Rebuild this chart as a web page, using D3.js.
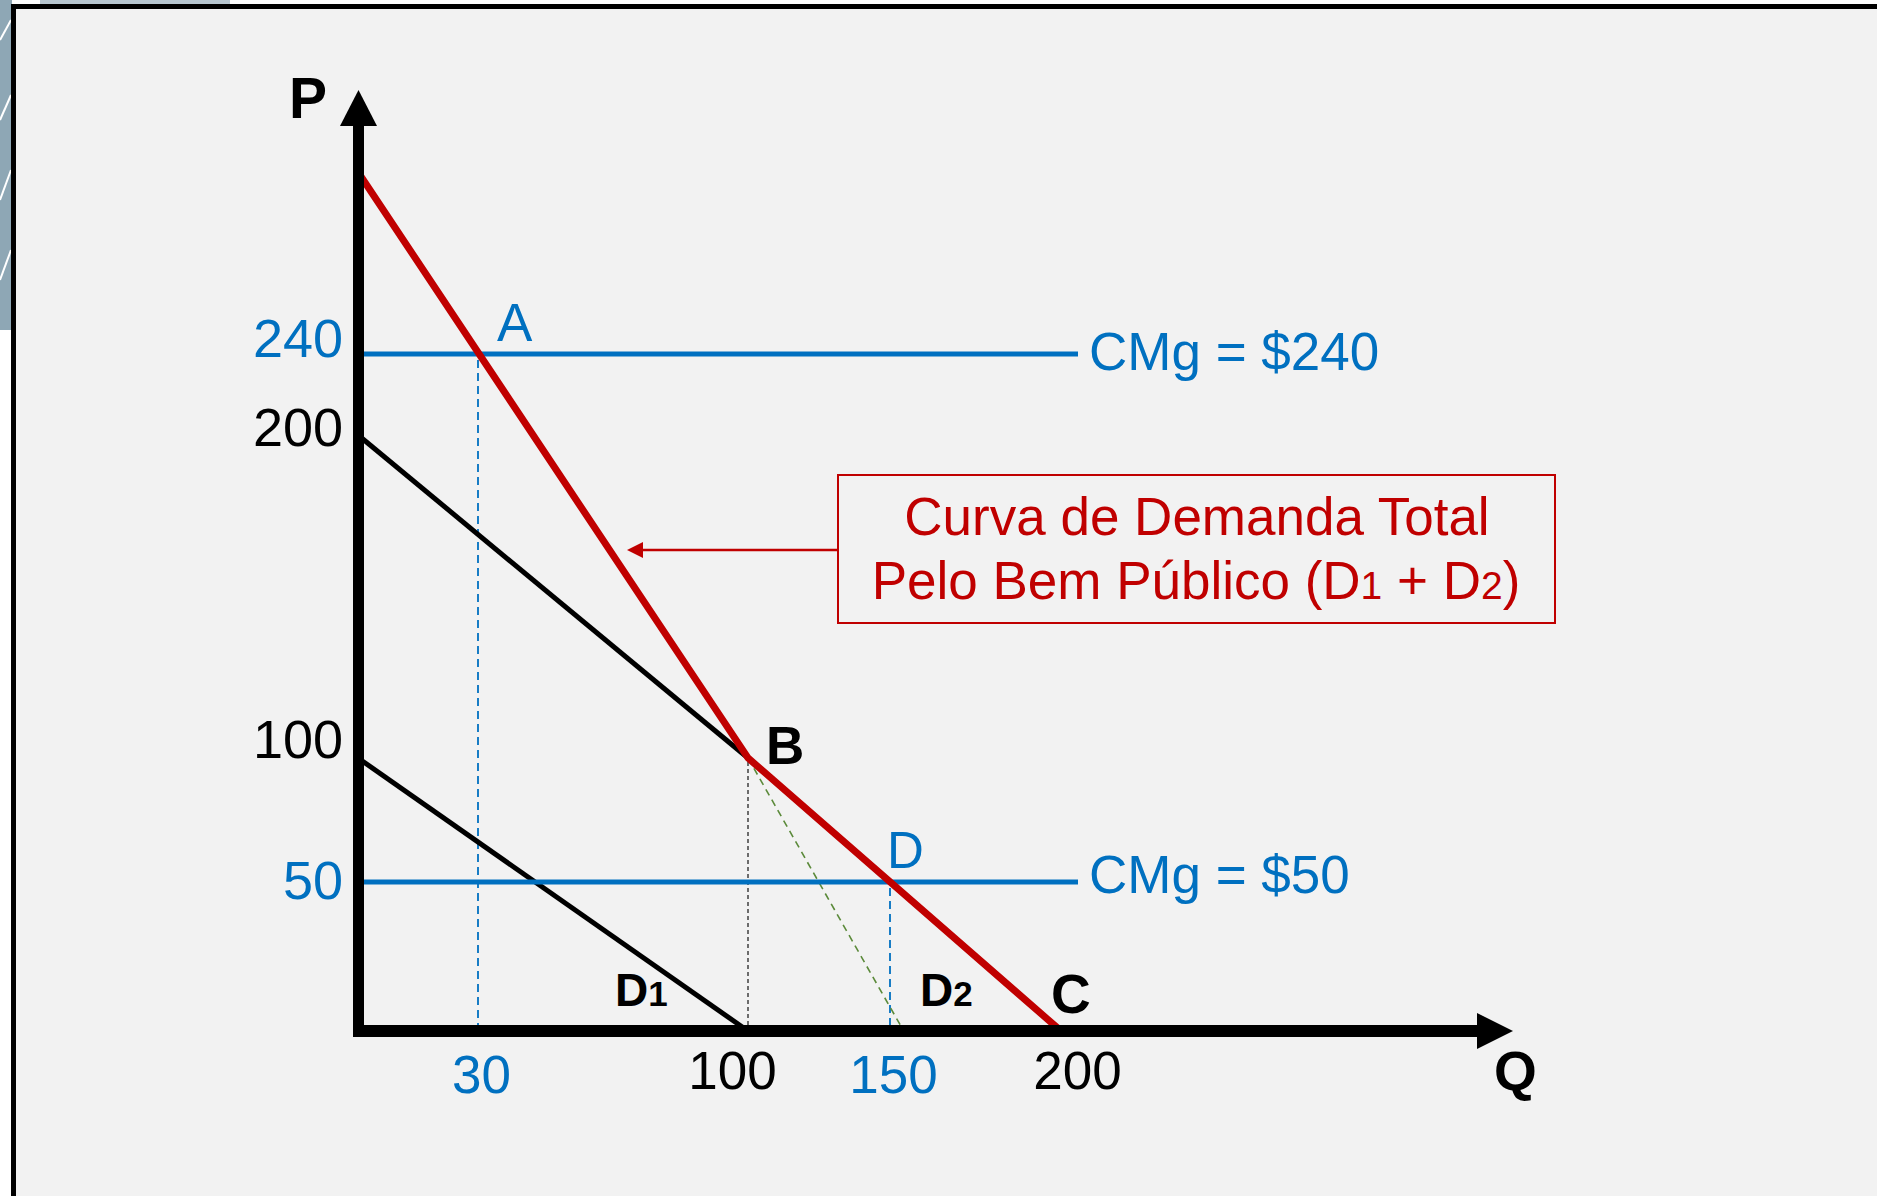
<!DOCTYPE html>
<html>
<head>
<meta charset="utf-8">
<script src="https://cdn.jsdelivr.net/npm/d3@7"></script>
<style>
  html, body { margin: 0; padding: 0; background: #ffffff; overflow: hidden; }
  svg { display: block; }
  text { font-family: "Liberation Sans", Arial, sans-serif; }
</style>
</head>
<body>
<div id="chart"></div>
<script>
// quantities and prices
const yTicks = [50, 100, 200, 240];
const xTicks = [30, 100, 150, 200];
const cmgLevels = [240, 50];      // marginal cost lines
const cmgQty = [30, 150];         // quantity where each CMg meets total demand
const d1Q = [0, 100];
const d1P = [100, 0];
const d2Q = [0, 100];
const d2P = [200, 100];
const totalQ = [0, 100, 200];
const totalP = [300, 100, 0];
const extQ = [100, 154];          // green dashed extension of the steep part
const extP = [100, 0];
const pointNames = ["A", "B", "C", "D"];
const pointQ = [30, 100, 200, 150];
const pointP = [240, 100, 0, 50];

const W = 1877, H = 1196;
const blue = "#0070c0", red = "#c00000";

const svg = d3.select("#chart").append("svg")
    .attr("width", W)
    .attr("height", H);

// slide frame + a bit of the background pattern on the left
svg.append("rect").attr("x", 0).attr("y", 0).attr("width", 12).attr("height", 330).attr("fill", "#8ea7b5");
[[0, 40, 11, 20], [0, 120, 11, 95], [0, 200, 11, 170], [0, 280, 11, 250]].forEach(l => {
    svg.append("line").attr("x1", l[0]).attr("y1", l[1]).attr("x2", l[2]).attr("y2", l[3])
        .attr("stroke", "#ffffff").attr("stroke-width", 2);
});
svg.append("rect").attr("x", 40).attr("y", 0).attr("width", 190).attr("height", 4).attr("fill", "#b7c6cf");
svg.append("rect")
    .attr("x", 13.5).attr("y", 6.5)
    .attr("width", W + 20).attr("height", H + 20)
    .attr("fill", "#f2f2f2")
    .attr("stroke", "#000").attr("stroke-width", 5);

// sketch is not drawn to scale, so piecewise scales
const x = d3.scaleLinear()
    .domain([0, 30, 100, 150, 200])
    .range([358, 478, 748, 890, 1061]);
const y = d3.scaleLinear()
    .domain([0, 50, 100, 200, 240, 300])
    .range([1031, 882, 758, 435, 354, 172]);

const line = d3.line().x(d => x(d[0])).y(d => y(d[1]));
const zip = (a, b) => a.map((v, i) => [v, b[i]]);

// dashed guides
svg.selectAll(".guide")
    .data(cmgQty.map((q, i) => [q, cmgLevels[i]]))
    .enter().append("line")
    .attr("class", "guide")
    .attr("x1", d => x(d[0])).attr("x2", d => x(d[0]))
    .attr("y1", d => y(d[1]) + 6).attr("y2", y(0))
    .attr("stroke", blue).attr("stroke-width", 1.8)
    .attr("stroke-dasharray", "8,5");

svg.append("line")
    .attr("x1", x(100)).attr("x2", x(100))
    .attr("y1", y(100) + 4).attr("y2", y(0))
    .attr("stroke", "#404040").attr("stroke-width", 1.5)
    .attr("stroke-dasharray", "4,3");

svg.append("path")
    .attr("d", line(zip(extQ, extP)))
    .attr("fill", "none")
    .attr("stroke", "#5b8a3a").attr("stroke-width", 1.6)
    .attr("stroke-dasharray", "7,5");

// individual demands
svg.append("path").attr("d", line(zip(d1Q, d1P)))
    .attr("fill", "none").attr("stroke", "#000").attr("stroke-width", 5);
svg.append("path").attr("d", line(zip(d2Q, d2P)))
    .attr("fill", "none").attr("stroke", "#000").attr("stroke-width", 5);

// marginal cost lines
svg.selectAll(".cmg")
    .data(cmgLevels)
    .enter().append("line")
    .attr("class", "cmg")
    .attr("x1", x(0)).attr("x2", 1078)
    .attr("y1", d => y(d)).attr("y2", d => y(d))
    .attr("stroke", blue).attr("stroke-width", 5);

svg.selectAll(".cmgLabel")
    .data(cmgLevels)
    .enter().append("text")
    .attr("class", "cmgLabel")
    .attr("x", 1089)
    .attr("y", d => y(d) + (d > 100 ? 16 : 11))
    .attr("fill", blue)
    .attr("font-size", 53)
    .text(d => `CMg = $${d}`);

// total demand
svg.append("path").attr("d", line(zip(totalQ, totalP)))
    .attr("fill", "none").attr("stroke", red).attr("stroke-width", 7)
    .attr("stroke-linejoin", "miter");

// axes lines with arrow heads
svg.append("line").attr("x1", 358.5).attr("x2", 358.5).attr("y1", 1037).attr("y2", 124)
    .attr("stroke", "#000").attr("stroke-width", 11);
svg.append("path").attr("d", "M340,126 L358.5,90 L377,126 Z").attr("fill", "#000");
svg.append("line").attr("x1", 353).attr("x2", 1479).attr("y1", 1031).attr("y2", 1031)
    .attr("stroke", "#000").attr("stroke-width", 12);
svg.append("path").attr("d", "M1477,1013 L1513,1031 L1477,1049 Z").attr("fill", "#000");

const isBlueP = d => cmgLevels.includes(d);
const isBlueQ = d => cmgQty.includes(d);
// the hand-placed labels sit a little off their tick positions
const yNudge = {240: -6, 200: 2, 100: -9, 50: 8};
const xNudge = {30: 3, 100: -16, 150: 3, 200: 16};

const yAxis = svg.append("g")
    .attr("transform", `translate(${x(0)},0)`)
    .call(d3.axisLeft(y).tickValues(yTicks).tickSize(0).tickPadding(15));
yAxis.select(".domain").remove();
yAxis.selectAll("text")
    .attr("dy", d => (8 + yNudge[d]) + "px")
    .attr("font-size", 54)
    .attr("font-family", "Liberation Sans, Arial, sans-serif")
    .attr("fill", d => isBlueP(d) ? blue : "#000");

const xAxis = svg.append("g")
    .attr("transform", `translate(0,${y(0)})`)
    .call(d3.axisBottom(x).tickValues(xTicks).tickSize(0).tickPadding(21));
xAxis.select(".domain").remove();
xAxis.selectAll("text")
    .attr("dx", d => xNudge[d] + "px")
    .attr("dy", d => (d === 30 || d === 150 ? "0.78em" : "0.7em"))
    .attr("font-size", 53)
    .attr("font-family", "Liberation Sans, Arial, sans-serif")
    .attr("fill", d => isBlueQ(d) ? blue : "#000");

// axis titles
svg.append("text").attr("x", 289).attr("y", 118)
    .attr("font-size", 57).attr("font-weight", "bold").text("P");
svg.append("text").attr("x", 1494).attr("y", 1090)
    .attr("font-size", 55).attr("font-weight", "bold").text("Q");

// point labels
const pointStyle = {
    A: {dx: 19, dy: -13, fill: blue, weight: "normal", size: 53},
    B: {dx: 18, dy: 6, fill: "#000", weight: "bold", size: 53},
    C: {dx: -10, dy: -18, fill: "#000", weight: "bold", size: 55},
    D: {dx: -3, dy: -14, fill: blue, weight: "normal", size: 51}
};
svg.selectAll(".pt")
    .data(pointNames)
    .enter().append("text")
    .attr("class", "pt")
    .attr("x", (d, i) => x(pointQ[i]) + pointStyle[d].dx)
    .attr("y", (d, i) => y(pointP[i]) + pointStyle[d].dy)
    .attr("fill", d => pointStyle[d].fill)
    .attr("font-weight", d => pointStyle[d].weight)
    .attr("font-size", d => pointStyle[d].size)
    .text(d => d);

// curve names
const curveLabels = [["D", "1", x(100) - 133], ["D", "2", x(150) + 30]];
curveLabels.forEach(c => {
    const t = svg.append("text").attr("x", c[2]).attr("y", 1006)
        .attr("font-weight", "bold").attr("font-size", 46);
    t.append("tspan").text(c[0]);
    t.append("tspan").attr("font-size", 35).text(c[1]);
});

// annotation box
svg.append("rect")
    .attr("x", 838).attr("y", 475).attr("width", 717).attr("height", 148)
    .attr("fill", "none").attr("stroke", red).attr("stroke-width", 2);
svg.append("line").attr("x1", 838).attr("x2", 640).attr("y1", 550).attr("y2", 550)
    .attr("stroke", red).attr("stroke-width", 2.5);
svg.append("path").attr("d", "M627,550 L643,542 L643,558 Z").attr("fill", red);

svg.append("text").attr("x", 1197).attr("y", 535)
    .attr("text-anchor", "middle").attr("fill", red).attr("font-size", 53)
    .text("Curva de Demanda Total");
const l2 = svg.append("text").attr("x", 1196).attr("y", 599)
    .attr("text-anchor", "middle").attr("fill", red).attr("font-size", 53);
l2.append("tspan").text("Pelo Bem Público (D");
l2.append("tspan").attr("font-size", 39).text("1");
l2.append("tspan").text(" + D");
l2.append("tspan").attr("font-size", 39).text("2");
l2.append("tspan").text(")");
</script>
</body>
</html>
